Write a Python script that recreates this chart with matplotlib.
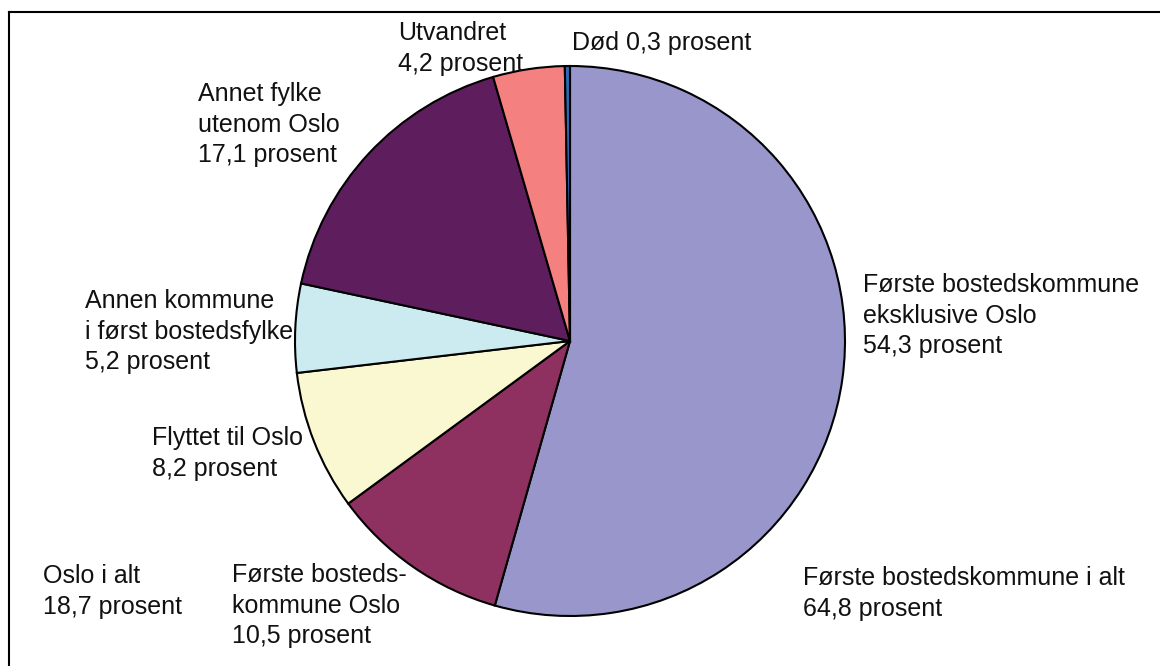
import matplotlib.pyplot as plt
from matplotlib.lines import Line2D

# slices, clockwise from 12 o'clock
slice_names = ['Første bostedskommune\neksklusive Oslo', 'Første bosteds-\nkommune Oslo',
               'Flyttet til Oslo', 'Annen kommune\ni først bostedsfylke',
               'Annet fylke\nutenom Oslo', 'Utvandret', 'Død']
slice_values = [54.3, 10.5, 8.2, 5.2, 17.1, 4.2, 0.3]
slice_colors = ['#9896CA', '#8E3060', '#FAF8D0', '#CCEBF0', '#5E1E5E', '#F58080', '#2D6BB5']


def pct(v):
    return f'{v:.1f}'.replace('.', ',') + ' prosent'


oslo_total = slice_values[1] + slice_values[2]
first_total = slice_values[0] + slice_values[1]

labels = [slice_names[0] + '\n' + pct(slice_values[0]),
          slice_names[1] + '\n' + pct(slice_values[1]),
          slice_names[2] + '\n' + pct(slice_values[2]),
          slice_names[3] + '\n' + pct(slice_values[3]),
          slice_names[4] + '\n' + pct(slice_values[4]),
          slice_names[5] + '\n' + pct(slice_values[5]),
          slice_names[6] + ' ' + pct(slice_values[6]),
          'Oslo i alt\n' + pct(oslo_total),
          'Første bostedskommune i alt\n' + pct(first_total)]
# top-left of each label, in pixels from the image's top-left
label_pos = [(863, 273), (232, 563), (152, 426), (85, 289), (198, 82),
             (398, 21), (572, 31), (43, 564), (803, 566)]

W, H = 1160, 666
fig = plt.figure(figsize=(W / 100, H / 100), dpi=100)
ax = fig.add_axes([0, 0, 1, 1])

ax.pie(slice_values, colors=slice_colors, startangle=90, counterclock=False,
       center=(570, H - 341), radius=275,
       wedgeprops=dict(edgecolor='black', linewidth=1.5))
ax.set_xlim(0, W)
ax.set_ylim(0, H)
ax.set_aspect('equal')
ax.axis('off')

for text, (x, y) in zip(labels, label_pos):
    ax.text(x, H - y, text, ha='left', va='top', fontsize=18, linespacing=1.35,
            family='Liberation Sans', color='#111111')

# frame around the chart area
fig.add_artist(Line2D([9 / W, 9 / W], [0, 1 - 12 / H], color='black', lw=1.5))
fig.add_artist(Line2D([9 / W, 1], [1 - 12 / H, 1 - 12 / H], color='black', lw=1.5))

fig.savefig('out.png', dpi=100)
